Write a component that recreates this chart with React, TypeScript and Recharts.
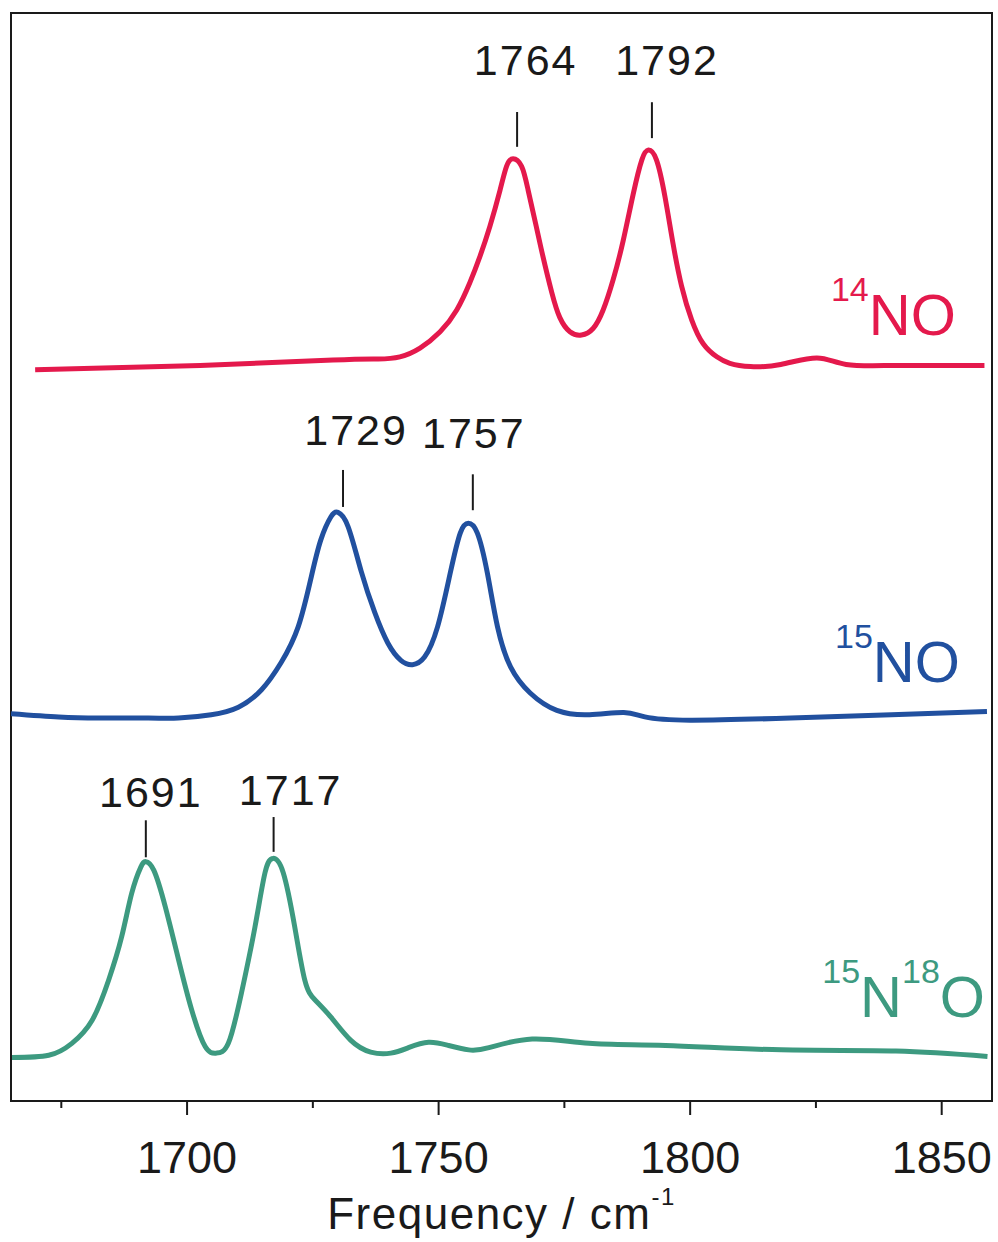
import React from 'react';
import {
  LineChart,
  Line,
  XAxis,
  YAxis,
  ReferenceLine,
  ReferenceDot,
  ReferenceArea
} from 'recharts';

// IR spectra, offset absorbance (a.u.) vs. wavenumber (cm-1)
const no14Freq = [1669.8, 1702.6, 1729.0, 1738.0, 1742.3, 1746.3, 1750.3, 1753.6, 1756.2, 1758.2, 1760.2, 1762.2, 1763.5, 1764.8, 1766.5, 1767.8, 1769.4, 1770.7, 1772.5, 1774.1, 1776.1, 1778.4, 1780.7, 1782.7, 1784.7, 1786.7, 1788.7, 1790.4, 1791.7, 1793.3, 1795.0, 1796.6, 1798.3, 1800.3, 1802.6, 1805.3, 1807.9, 1812, 1818, 1825.2, 1831, 1840, 1850, 1858.5];
const no14Abs = [6.72, 6.76, 6.81, 6.82, 6.84, 6.92, 7.07, 7.27, 7.52, 7.76, 8.04, 8.37, 8.59, 8.66, 8.59, 8.37, 8.04, 7.77, 7.43, 7.20, 7.07, 7.04, 7.10, 7.27, 7.55, 7.91, 8.34, 8.65, 8.74, 8.65, 8.31, 7.88, 7.49, 7.18, 6.96, 6.84, 6.78, 6.75, 6.77, 6.83, 6.77, 6.76, 6.76, 6.76];

const no15Freq = [1665, 1674.5, 1682.4, 1692.3, 1698.3, 1704.8, 1710.2, 1714.8, 1718.7, 1722.1, 1724.7, 1726.6, 1728.6, 1730.0, 1732.0, 1734.6, 1737.3, 1739.9, 1742.5, 1744.8, 1747.2, 1749.8, 1752.3, 1754.3, 1755.9, 1757.7, 1759.7, 1761.7, 1764.3, 1768.2, 1773.5, 1780, 1786.8, 1791, 1800, 1820, 1840, 1859];
const no15Abs = [3.56, 3.53, 3.52, 3.52, 3.52, 3.55, 3.62, 3.78, 4.03, 4.36, 4.82, 5.16, 5.37, 5.41, 5.28, 4.87, 4.49, 4.21, 4.05, 4.01, 4.08, 4.36, 4.85, 5.22, 5.31, 5.22, 4.85, 4.36, 3.99, 3.75, 3.59, 3.55, 3.57, 3.53, 3.50, 3.52, 3.55, 3.58];

const n15o18Freq = [1665.2, 1672.5, 1677.1, 1681.1, 1684.4, 1687.0, 1689.0, 1690.8, 1691.8, 1693.4, 1695.7, 1698.3, 1700.9, 1703.6, 1705.8, 1708.2, 1710.8, 1713.5, 1715.5, 1717.1, 1719.1, 1721.4, 1723.4, 1725.4, 1728.6, 1732.5, 1736.5, 1740.5, 1744, 1748, 1752, 1756, 1760, 1768.6, 1779.9, 1795.1, 1818.1, 1840.9, 1859.1];
const n15o18Abs = [0.40, 0.42, 0.53, 0.74, 1.11, 1.51, 1.91, 2.15, 2.20, 2.12, 1.78, 1.30, 0.84, 0.50, 0.44, 0.53, 0.99, 1.60, 2.10, 2.23, 2.10, 1.60, 1.11, 0.93, 0.77, 0.56, 0.45, 0.44, 0.49, 0.54, 0.51, 0.47, 0.49, 0.57, 0.53, 0.51, 0.47, 0.46, 0.41];

// peak marks: label, tick position, tick bottom/top, label position
const peakLabels = ['1764', '1792', '1729', '1757', '1691', '1717'];
const peakTickFreq = [1765.6, 1792.4, 1731.0, 1756.8, 1691.8, 1717.2];
const peakTickLow = [8.77, 8.85, 5.46, 5.43, 2.24, 2.29];
const peakTickHigh = [9.09, 9.18, 5.80, 5.76, 2.58, 2.61];
const peakTextFreq = [1767.3, 1795.4, 1733.6, 1757.0, 1692.8, 1720.6];
const peakTextAbs = [9.43, 9.43, 6.03, 6.00, 2.70, 2.72];

const xDomain = [1665, 1860];
const xTicks = [1675, 1700, 1725, 1750, 1775, 1800, 1825, 1850];

const RED = '#e4194c';
const BLUE = '#21509f';
const GREEN = '#3d9a80';
const INK = '#1a1a1a';
const FONT = '"Liberation Sans", Arial, Helvetica, sans-serif';

const toPoints = (f: number[], a: number[]) => f.map((x, i) => ({ f: x, a: a[i] }));

const FreqTick = (props: any) => {
  const { x, y, payload } = props;
  const major = payload.value % 50 === 0;
  return (
    <g>
      <line x1={x} y1={y} x2={x} y2={y + (major ? 14 : 7)} stroke={INK} strokeWidth={2} />
      {major && (
        <text x={x} y={y + 72} textAnchor="middle" fontSize={45} fontFamily={FONT} fill={INK}>
          {payload.value}
        </text>
      )}
    </g>
  );
};

const AxisTitle = (props: any) => {
  const { viewBox } = props;
  const cx = viewBox.x + viewBox.width / 2;
  return (
    <text x={cx} y={1229} textAnchor="middle" fontSize={44} fontFamily={FONT} fill={INK} letterSpacing={1.5}>
      Frequency / cm
      <tspan fontSize={24} dy={-24}>-1</tspan>
    </text>
  );
};

const isoLabel = (parts: { t: string; sup?: boolean }[], color: string) => (props: any) => {
  const { cx, cy } = props;
  let shift = 0;
  return (
    <text x={cx} y={cy} textAnchor="end" fontFamily={FONT} fill={color}>
      {parts.map((p, i) => {
        const target = p.sup ? -34 : 0;
        const dy = target - shift;
        shift = target;
        return (
          <tspan key={i} dy={dy} fontSize={p.sup ? 34 : 58}>
            {p.t}
          </tspan>
        );
      })}
    </text>
  );
};

const peakText = (label: string) => (props: any) => (
  <text x={props.cx} y={props.cy} textAnchor="middle" fontSize={43} fontFamily={FONT} fill={INK} letterSpacing={2}>
    {label}
  </text>
);

export default function App() {
  const traces = [
    { key: '14NO', data: toPoints(no14Freq, no14Abs), color: RED },
    { key: '15NO', data: toPoints(no15Freq, no15Abs), color: BLUE },
    { key: '15N18O', data: toPoints(n15o18Freq, n15o18Abs), color: GREEN }
  ];

  return (
    <div style={{ position: 'absolute', left: 0, top: 0, width: 998, height: 1242, background: '#fff' }}>
      <LineChart width={998} height={1242} margin={{ top: 13, right: 6, bottom: 0, left: 11 }}>
        <XAxis
          type="number"
          dataKey="f"
          domain={xDomain}
          ticks={xTicks}
          allowDataOverflow
          height={141}
          tickSize={0}
          tickMargin={0}
          tickLine={false}
          tick={<FreqTick />}
          axisLine={{ stroke: INK, strokeWidth: 2 }}
          label={{ content: <AxisTitle /> }}
        />
        <YAxis type="number" domain={[0, 10]} hide allowDataOverflow />
        <ReferenceArea
          x1={xDomain[0]}
          x2={xDomain[1]}
          y1={0}
          y2={10}
          fill="none"
          fillOpacity={0}
          stroke={INK}
          strokeWidth={2}
          ifOverflow="visible"
        />
        {traces.map((t) => (
          <Line
            key={t.key}
            data={t.data}
            dataKey="a"
            type="natural"
            stroke={t.color}
            strokeWidth={5}
            dot={false}
            activeDot={false}
            isAnimationActive={false}
          />
        ))}
        {peakLabels.map((lab, i) => (
          <ReferenceLine
            key={'tick' + lab}
            segment={[
              { x: peakTickFreq[i], y: peakTickLow[i] },
              { x: peakTickFreq[i], y: peakTickHigh[i] }
            ]}
            stroke={INK}
            strokeWidth={2}
            ifOverflow="visible"
          />
        ))}
        {peakLabels.map((lab, i) => (
          <ReferenceDot
            key={'lab' + lab}
            x={peakTextFreq[i]}
            y={peakTextAbs[i]}
            r={0}
            ifOverflow="visible"
            shape={peakText(lab)}
          />
        ))}
        <ReferenceDot x={1852.8} y={7.04} r={0} ifOverflow="visible"
          shape={isoLabel([{ t: '14', sup: true }, { t: 'NO' }], RED)} />
        <ReferenceDot x={1853.6} y={3.85} r={0} ifOverflow="visible"
          shape={isoLabel([{ t: '15', sup: true }, { t: 'NO' }], BLUE)} />
        <ReferenceDot x={1858.6} y={0.77} r={0} ifOverflow="visible"
          shape={isoLabel([{ t: '15', sup: true }, { t: 'N' }, { t: '18', sup: true }, { t: 'O' }], GREEN)} />
      </LineChart>
    </div>
  );
}
